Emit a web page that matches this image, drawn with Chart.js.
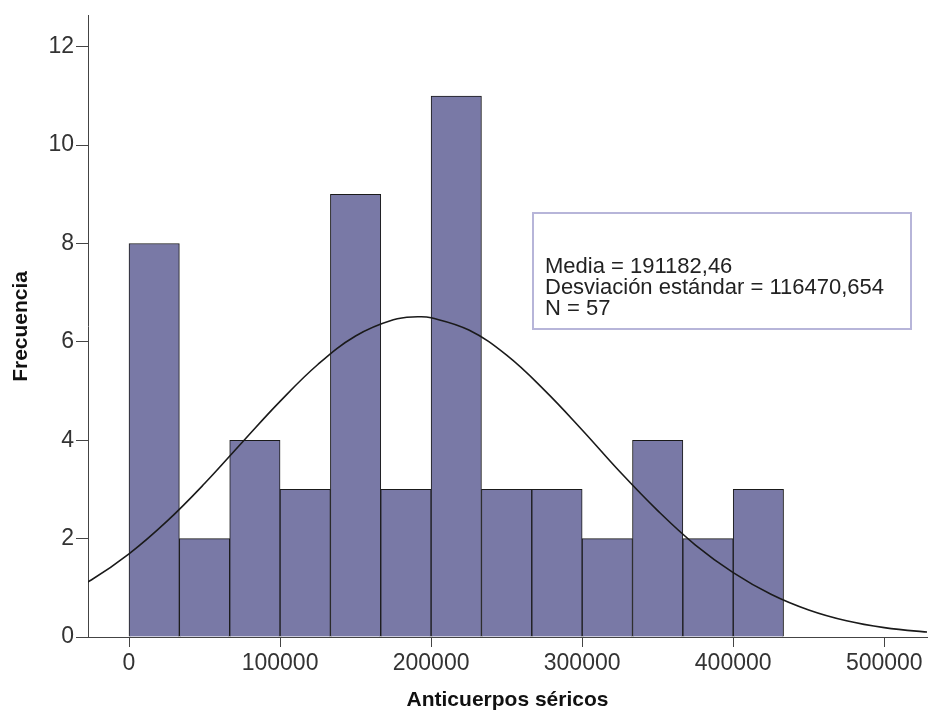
<!DOCTYPE html>
<html>
<head>
<meta charset="utf-8">
<script src="https://cdn.jsdelivr.net/npm/chart.js@4/dist/chart.umd.min.js"></script>
<style>
  html, body { margin: 0; padding: 0; background: #fff; }
  #wrap { width: 930px; height: 713px; }
</style>
</head>
<body>
<div id="wrap"><canvas id="myChart" width="930" height="713"></canvas></div>
<script>
// histogram bins (centres) and counts
const binCenters = [16667, 50000, 83333, 116667, 150000, 183333, 216667, 250000, 283333, 316667, 350000, 383333, 416667];
const binCounts = [8, 2, 4, 3, 9, 3, 11, 3, 3, 2, 4, 2, 3];

// normal curve
const curveX = [-50000, -25000, 0, 25000, 50000, 75000, 100000, 125000, 150000, 175000, 191182, 200000, 225000, 250000, 275000, 300000, 325000, 350000, 375000, 400000, 425000, 450000, 475000, 500000, 525000, 550000];
const curveY = [0.76, 1.16, 1.69, 2.35, 3.12, 3.96, 4.79, 5.54, 6.12, 6.45, 6.51, 6.49, 6.24, 5.73, 5.02, 4.21, 3.36, 2.57, 1.87, 1.31, 0.87, 0.55, 0.33, 0.19, 0.11, 0.06];

const xTicks = [0, 100000, 200000, 300000, 400000, 500000];
const yTicks = [0, 2, 4, 6, 8, 10, 12];

const statsLines = ["Media = 191182,46", "Desviación estándar = 116470,654", "N = 57"];

document.addEventListener("DOMContentLoaded", () => {
  const statsBox = {
    id: "statsBox",
    afterDraw: chart => {
      const c = chart.ctx;
      c.save();
      c.strokeStyle = "#b7b5d9";
      c.lineWidth = 2;
      c.fillStyle = "#fff";
      c.fillRect(533, 213, 378, 116);
      c.strokeRect(533, 213, 378, 116);
      c.fillStyle = "#222";
      c.font = "22px 'Liberation Sans', Arial, sans-serif";
      c.textBaseline = "top";
      statsLines.forEach((t, i) => c.fillText(t, 545, 256 + i * 21));
      c.restore();
    }
  };

  const ctx = document.getElementById("myChart").getContext("2d");
  const chart = new Chart(ctx, {
    type: "bar",
    data: {
      datasets: [
        {
          type: "line",
          data: curveX.map((x, i) => ({ x: x, y: curveY[i] })),
          borderColor: "#1a1a1a",
          borderWidth: 1.6,
          pointRadius: 0,
          tension: 0.4,
          fill: false,
          order: 0
        },
        {
          type: "bar",
          data: binCenters.map((x, i) => ({ x: x, y: binCounts[i] })),
          backgroundColor: "rgb(121,121,166)",
          borderColor: "#1a1a1a",
          borderWidth: 1,
          barPercentage: 1,
          categoryPercentage: 1,
          order: 1
        }
      ]
    },
    options: {
      responsive: false,
      animation: false,
      layout: { padding: { left: 0, top: 11, right: 3, bottom: 0 } },
      plugins: { legend: { display: false }, tooltip: { enabled: false } },
      scales: {
        x: {
          type: "linear",
          min: -27150,
          max: 528300,
          offset: false,
          grid: { drawOnChartArea: false, drawTicks: true, tickLength: 10, tickColor: "#444", offset: false },
          border: { color: "#444", width: 1 },
          afterBuildTicks: s => { s.ticks = xTicks.map(v => ({ value: v })); },
          ticks: {
            maxRotation: 0,
            autoSkip: false,
            color: "#333",
            padding: 3,
            font: { family: "'Liberation Sans', Arial, sans-serif", size: 23 },
            callback: v => String(v)
          },
          title: {
            display: true,
            text: "Anticuerpos séricos",
            color: "#111",
            padding: { top: 6, bottom: 0 },
            font: { family: "'Liberation Sans', Arial, sans-serif", size: 21, weight: "bold" }
          },
          afterFit: s => { s.height = 76; }
        },
        y: {
          min: 0,
          max: 12.63,
          grid: { drawOnChartArea: false, drawTicks: true, tickLength: 12, tickColor: "#444" },
          border: { color: "#444", width: 1 },
          afterBuildTicks: s => { s.ticks = yTicks.map(v => ({ value: v })); },
          ticks: {
            color: "#333",
            padding: 2,
            font: { family: "'Liberation Sans', Arial, sans-serif", size: 23 },
            callback: v => String(v)
          },
          title: {
            display: true,
            text: "Frecuencia",
            color: "#111",
            padding: { top: 9, bottom: 0 },
            font: { family: "'Liberation Sans', Arial, sans-serif", size: 21, weight: "bold" }
          },
          afterFit: s => { s.width = 88; }
        }
      }
    },
    plugins: [statsBox]
  });
});
</script>
</body>
</html>
